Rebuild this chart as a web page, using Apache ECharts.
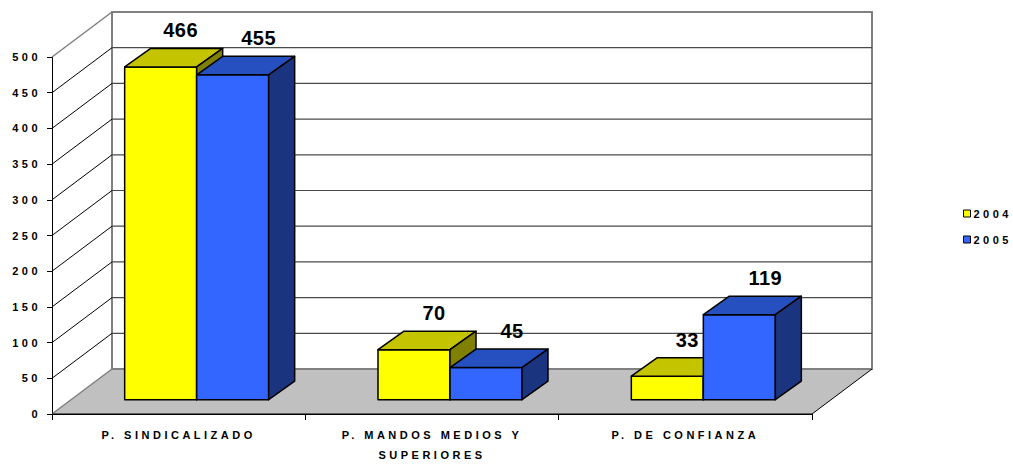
<!DOCTYPE html>
<html>
<head>
<meta charset="utf-8">
<script src="https://cdn.jsdelivr.net/npm/echarts@6/dist/echarts.min.js"></script>
<style>
  html, body { margin: 0; padding: 0; background: #fff; }
  #main { width: 1013px; height: 465px; }
  #main svg text { letter-spacing: 3.5px; }
  #main svg text[style*="20px"] { letter-spacing: 0.5px; }
</style>
</head>
<body>
<div id="main"></div>
<script>
// ---- data ----
const categories = ['P. SINDICALIZADO', 'P. MANDOS MEDIOS Y\nSUPERIORES', 'P. DE CONFIANZA'];
const seriesNames = ['2004', '2005'];
const values2004 = [466, 70, 33];
const values2005 = [455, 45, 119];
const yTicks = [0, 50, 100, 150, 200, 250, 300, 350, 400, 450, 500];

// ---- style constants ----
const FONT = '"Liberation Sans", Arial, sans-serif';
const DEPTH = { x: 60, y: -45 };       // chart depth (floor/back wall)
const BAR_OFF = { x: 18, y: -14.3 };   // bar front plane offset
const BAR_DEPTH = { x: 26, y: -18.5 }; // bar thickness
const BAR_W = 72;

const chart = echarts.init(document.getElementById('main'), null, { renderer: 'svg' });

function wallsRender(params, api) {
  const cs = params.coordSys;
  const L = cs.x, R = cs.x + cs.width;
  const y0 = api.coord([0, yTicks[0]])[1];
  const yTop = api.coord([0, yTicks[yTicks.length - 1]])[1];
  const dx = DEPTH.x, dy = DEPTH.y;
  const children = [];
  // floor
  children.push({ type: 'polygon', shape: { points: [[L, y0], [R, y0], [R + dx, y0 + dy], [L + dx, y0 + dy]] },
    style: { fill: '#C0C0C0', stroke: null } });
  // back wall
  children.push({ type: 'rect', shape: { x: L + dx, y: yTop + dy, width: R - L, height: y0 - yTop },
    style: { fill: '#FFFFFF', stroke: '#808080', lineWidth: 2 } });
  // gridlines on back wall and side wall
  yTicks.forEach(function (v, i) {
    const y = api.coord([0, v])[1];
    if (v !== yTicks[0] && i !== yTicks.length - 1) {
      children.push({ type: 'line', shape: { x1: L + dx, y1: y + dy, x2: R + dx, y2: y + dy },
        style: { stroke: '#4A4A4A', lineWidth: 1.2 } });
    }
    if (v !== yTicks[0]) {
      children.push({ type: 'line', shape: { x1: L, y1: y, x2: L + dx, y2: y + dy },
        style: { stroke: i === yTicks.length - 1 ? '#808080' : '#000000', lineWidth: i === yTicks.length - 1 ? 1.5 : 1 } });
    }
  });
  // floor edges
  children.push({ type: 'line', shape: { x1: L + dx, y1: y0 + dy, x2: R + dx, y2: y0 + dy }, style: { stroke: '#808080', lineWidth: 2 } });
  children.push({ type: 'line', shape: { x1: L, y1: y0, x2: L + dx, y2: y0 + dy }, style: { stroke: '#808080', lineWidth: 1.5 } });
  children.push({ type: 'line', shape: { x1: R, y1: y0, x2: R + dx, y2: y0 + dy }, style: { stroke: '#000000', lineWidth: 1 } });
  children.push({ type: 'line', shape: { x1: L, y1: y0, x2: R, y2: y0 }, style: { stroke: '#000000', lineWidth: 1 } });
  return { type: 'group', children: children };
}

function makeBarRender(side, faceColor, topColor, sideColor) {
  return function (params, api) {
    const cat = api.value(0), v = api.value(1);
    const base = api.coord([cat, 0]);
    const top = api.coord([cat, v]);
    const x0 = base[0] + (side === 0 ? -BAR_W : 0) + BAR_OFF.x;
    const x1 = x0 + BAR_W;
    const yb = base[1] + BAR_OFF.y;
    const yt = top[1] + BAR_OFF.y;
    const dx = BAR_DEPTH.x, dy = BAR_DEPTH.y;
    const stroke = { stroke: '#000000', lineWidth: 1.5, lineJoin: 'round' };
    return {
      type: 'group',
      children: [
        { type: 'polygon', shape: { points: [[x0, yt], [x1, yt], [x1, yb], [x0, yb]] },
          style: Object.assign({ fill: faceColor }, stroke) },
        { type: 'polygon', shape: { points: [[x0, yt], [x0 + dx, yt + dy], [x1 + dx, yt + dy], [x1, yt]] },
          style: Object.assign({ fill: topColor }, stroke) },
        { type: 'polygon', shape: { points: [[x1, yt], [x1 + dx, yt + dy], [x1 + dx, yb + dy], [x1, yb]] },
          style: Object.assign({ fill: sideColor }, stroke) },
        { type: 'text', z2: 100, style: { text: String(v), x: (x0 + x1) / 2 + dx - (side === 0 ? 6 : 0), y: yt + dy - 18,
          align: 'center', verticalAlign: 'middle', fill: '#000',
          font: 'bold 20px ' + FONT } }
      ]
    };
  };
}

const option = {
  backgroundColor: '#FFFFFF',
  animation: false,
  textStyle: { fontFamily: FONT },
  grid: { left: 52, right: 201, top: 57, bottom: 49 },
  legend: {
    data: seriesNames,
    orient: 'vertical',
    left: 958,
    top: 203,
    icon: 'rect',
    itemWidth: 7,
    itemHeight: 7,
    itemGap: 15,
    itemStyle: { borderColor: '#000', borderWidth: 1 },
    textStyle: { fontSize: 11, fontWeight: 'bold', color: '#000', fontFamily: FONT, padding: [0, 0, 0, -2] }
  },
  xAxis: {
    type: 'category',
    data: categories,
    axisLine: { lineStyle: { color: '#000', width: 1 } },
    axisTick: { show: true, length: 6, lineStyle: { color: '#000' } },
    axisLabel: { interval: 0, margin: 11, fontSize: 11, fontWeight: 'bold', color: '#000', lineHeight: 20, fontFamily: FONT },
    splitLine: { show: false }
  },
  yAxis: {
    type: 'value',
    min: 0,
    max: 500,
    interval: 50,
    axisLine: { show: true, lineStyle: { color: '#000', width: 1 } },
    axisTick: { show: true, length: 5, lineStyle: { color: '#000' } },
    axisLabel: { margin: 11, fontSize: 11, fontWeight: 'bold', color: '#000', fontFamily: FONT },
    splitLine: { show: false }
  },
  series: [
    { type: 'custom', name: 'walls', z: 1, data: [[0, 0]], renderItem: wallsRender, silent: true },
    { type: 'custom', name: seriesNames[0], z: 3, itemStyle: { color: '#FFFF00' },
      data: values2004.map(function (v, i) { return [i, v]; }),
      renderItem: makeBarRender(0, '#FFFF00', '#C4C400', '#808000') },
    { type: 'custom', name: seriesNames[1], z: 3, itemStyle: { color: '#3366FF' },
      data: values2005.map(function (v, i) { return [i, v]; }),
      renderItem: makeBarRender(1, '#3366FF', '#2650C0', '#1B3480') }
  ]
};
chart.setOption(option);
</script>
</body>
</html>
